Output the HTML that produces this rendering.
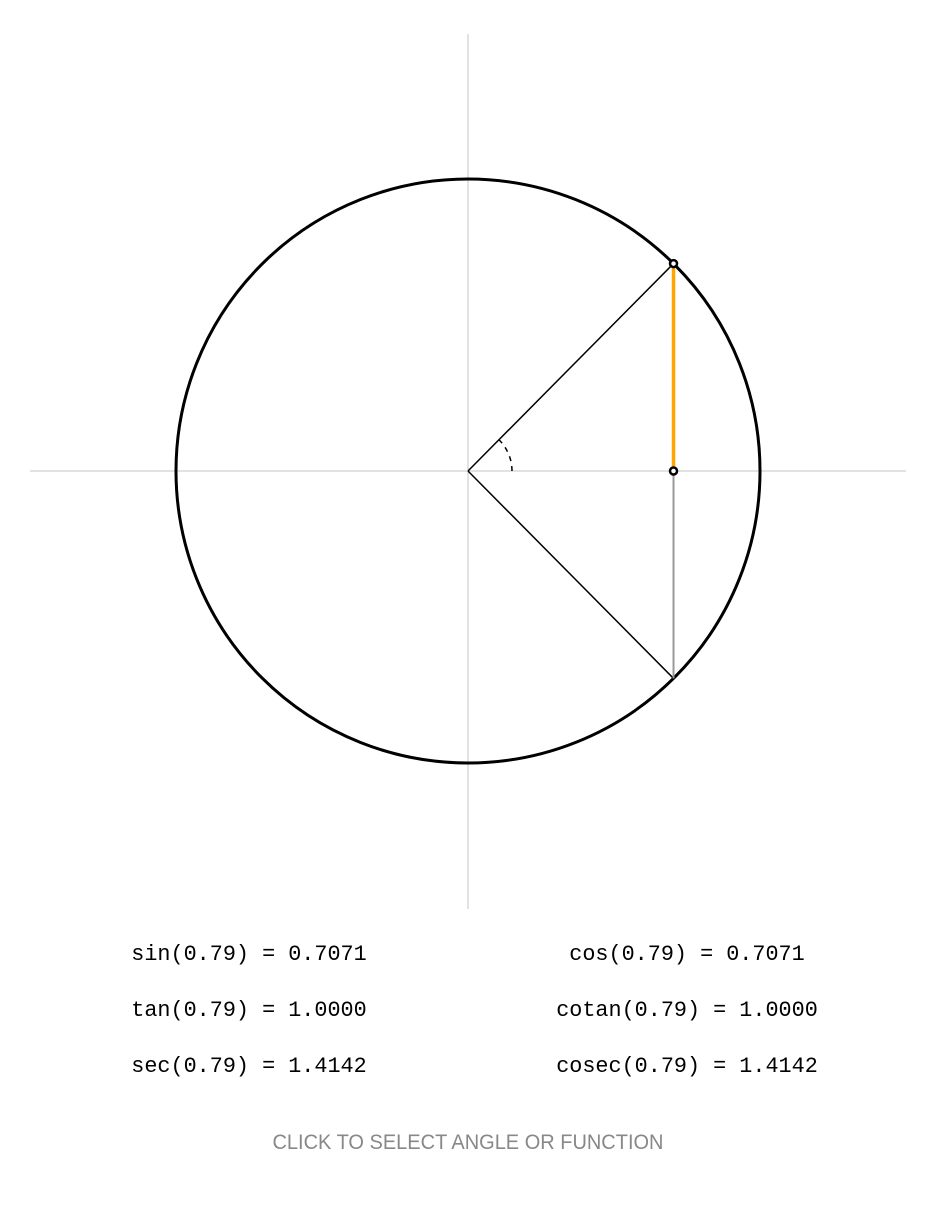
<!DOCTYPE html>
<html><head><meta charset="utf-8"><style>
html,body{margin:0;padding:0;background:#fff;}
svg{display:block;}
</style></head><body>
<svg id="chart" width="936" height="1218" viewBox="0 0 936 1218" xmlns="http://www.w3.org/2000/svg">
<line x1="30" y1="471" x2="906" y2="471" stroke="#d8d8d8" stroke-width="1.5"/>
<line x1="468" y1="34" x2="468" y2="909" stroke="#d8d8d8" stroke-width="1.5"/>
<circle cx="468" cy="471" r="292" fill="none" stroke="#000" stroke-width="3"/>
<g id="marks"></g>
<g font-family="'Liberation Mono', monospace" font-size="21.8" fill="#000">
<text x="249" y="960" text-anchor="middle">sin(0.79) = 0.7071</text>
<text x="687" y="960" text-anchor="middle">cos(0.79) = 0.7071</text>
<text x="249" y="1016" text-anchor="middle">tan(0.79) = 1.0000</text>
<text x="687" y="1016" text-anchor="middle">cotan(0.79) = 1.0000</text>
<text x="249" y="1072" text-anchor="middle">sec(0.79) = 1.4142</text>
<text x="687" y="1072" text-anchor="middle">cosec(0.79) = 1.4142</text>
</g>
<text x="468" y="1149" text-anchor="middle" font-family="'Liberation Sans', sans-serif" font-size="21" fill="#888" textLength="391" lengthAdjust="spacingAndGlyphs">CLICK TO SELECT ANGLE OR FUNCTION</text>
</svg>
<script>
const angle = [0.79];
const radius = [1];
const cx = 468, cy = 471, R = 292;
const sx = v => cx + v * R;
const sy = v => cy - v * R;
const g = document.getElementById('marks');
const NS = 'http://www.w3.org/2000/svg';
function mk(tag, attrs){ const e = document.createElementNS(NS, tag); for (const k in attrs) e.setAttribute(k, attrs[k]); g.appendChild(e); return e; }
const a = angle[0], r = radius[0];
const c = Math.cos(a) * r, s = Math.sin(a) * r;
let e;
e = mk('line', {x1: sx(0), y1: sy(0), x2: sx(c), y2: sy(s), stroke: '#000', 'stroke-width': 1.5});


e = mk('line', {x1: sx(0), y1: sy(0), x2: sx(c), y2: sy(-s), stroke: '#000', 'stroke-width': 1.5});


e = mk('line', {x1: sx(c), y1: sy(0), x2: sx(c), y2: sy(-s), stroke: '#999', 'stroke-width': 2});


e = mk('line', {x1: sx(c), y1: sy(0), x2: sx(c), y2: sy(s), stroke: '#ffa500', 'stroke-width': 3.5});


const ar = 44;
e = mk('path', {d: `M ${cx+ar} ${cy} A ${ar} ${ar} 0 0 0 ${cx+ar*Math.cos(a)} ${cy-ar*Math.sin(a)}`, fill: 'none', stroke: '#000', 'stroke-width': 1.5, 'stroke-dasharray': '5,5'});


e = mk('circle', {cx: sx(c), cy: sy(s), r: 3.5, fill: '#fff', stroke: '#000', 'stroke-width': 2.5});


e = mk('circle', {cx: sx(c), cy: sy(0), r: 3.5, fill: '#fff', stroke: '#000', 'stroke-width': 2.5});


</script>
</body></html>
